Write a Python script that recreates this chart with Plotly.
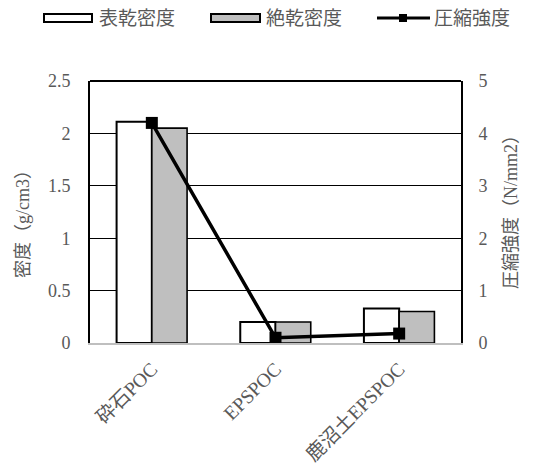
import plotly.graph_objects as go

# Mix categories and measured values
categories = ["砕石POC", "EPSPOC", "鹿沼土EPSPOC"]
surface_dry_density = [2.11, 0.20, 0.33]   # 表乾密度 (g/cm3)
absolute_dry_density = [2.05, 0.20, 0.30]  # 絶乾密度 (g/cm3)
compressive_strength = [4.2, 0.10, 0.18]   # 圧縮強度 (N/mm2)

left_ticks = [0, 0.5, 1, 1.5, 2, 2.5]
left_tick_text = ["0", "0.5", "1", "1.5", "2", "2.5"]
right_ticks = [0, 1, 2, 3, 4, 5]

FONT = "Liberation Serif, Noto Sans CJK JP"
GREY_TEXT = "#595959"

W, H = 537, 470
L, R, T, B = 90, 76, 81, 127
PW, PH = W - L - R, H - T - B


def px_x(x):
    return (x - L) / PW


def px_y(y):
    return (H - B - y) / PH


def text_font(size):
    return dict(family=FONT, size=size, color=GREY_TEXT)


fig = go.Figure()

fig.add_trace(go.Bar(
    x=categories, y=surface_dry_density, name="表乾密度",
    marker=dict(color="white", line=dict(color="black", width=2)),
    showlegend=False,
))
fig.add_trace(go.Bar(
    x=categories, y=absolute_dry_density, name="絶乾密度",
    marker=dict(color="#bfbfbf", line=dict(color="black", width=1.6)),
    showlegend=False,
))
fig.add_trace(go.Scatter(
    x=categories, y=compressive_strength, name="圧縮強度", yaxis="y2",
    mode="lines+markers",
    line=dict(color="black", width=3.5),
    marker=dict(symbol="square", size=12, color="black"),
    showlegend=False,
))

# Hand-built legend row above the plot
shapes = [
    dict(type="rect", xref="paper", yref="paper",
         x0=px_x(44), x1=px_x(92), y0=px_y(22), y1=px_y(14),
         fillcolor="white", line=dict(color="black", width=2)),
    dict(type="rect", xref="paper", yref="paper",
         x0=px_x(211), x1=px_x(260), y0=px_y(22), y1=px_y(14),
         fillcolor="#bfbfbf", line=dict(color="black", width=2)),
    dict(type="line", xref="paper", yref="paper",
         x0=px_x(377), x1=px_x(430), y0=px_y(18), y1=px_y(18),
         line=dict(color="black", width=3)),
    dict(type="rect", xref="paper", yref="paper",
         x0=px_x(399), x1=px_x(407), y0=px_y(22), y1=px_y(14),
         fillcolor="black", line=dict(color="black", width=0)),
    # top border of the plot frame
    dict(type="line", xref="paper", yref="paper",
         x0=0, x1=1, y0=1, y1=1, line=dict(color="black", width=2)),
]

legend_items = [("表乾密度", 97), ("絶乾密度", 264), ("圧縮強度", 432)]
annotations = [
    dict(text=t, xref="paper", yref="paper", x=px_x(x), y=px_y(18),
         xanchor="left", yanchor="middle", showarrow=False,
         font=text_font(19))
    for t, x in legend_items
]
annotations += [
    dict(text="密度（g/cm3）", xref="paper", yref="paper",
         x=px_x(23), y=px_y(220), textangle=-90, showarrow=False,
         xanchor="center", yanchor="middle", font=text_font(18)),
    dict(text="圧縮強度（N/mm2）", xref="paper", yref="paper",
         x=px_x(511), y=px_y(207), textangle=-90, showarrow=False,
         xanchor="center", yanchor="middle", font=text_font(18)),
]

fig.update_layout(
    width=W, height=H,
    margin=dict(l=L, r=R, t=T, b=B, pad=0),
    paper_bgcolor="white", plot_bgcolor="white",
    barmode="group", bargap=0.43, bargroupgap=0,
    font=text_font(18),
    showlegend=False,
    shapes=shapes,
    annotations=annotations,
    xaxis=dict(
        automargin=False,
        showline=True, linecolor="#bfbfbf", linewidth=2,
        showgrid=False, tickangle=-45, ticks="", ticklabelstandoff=5,
        tickfont=text_font(19.5),
    ),
    yaxis=dict(
        automargin=False,
        range=[0, 2.5], tickvals=left_ticks, ticktext=left_tick_text,
        showgrid=True, gridcolor="black", gridwidth=1,
        zeroline=False, showline=True, linecolor="black", linewidth=2,
        ticks="", ticklabelstandoff=14,
        tickfont=text_font(18),
    ),
    yaxis2=dict(
        automargin=False,
        range=[0, 5], tickvals=right_ticks, overlaying="y", side="right",
        showgrid=False, zeroline=False,
        showline=True, linecolor="black", linewidth=2,
        ticks="", ticklabelstandoff=12,
        tickfont=text_font(18),
    ),
)

fig.write_html("out.html")
